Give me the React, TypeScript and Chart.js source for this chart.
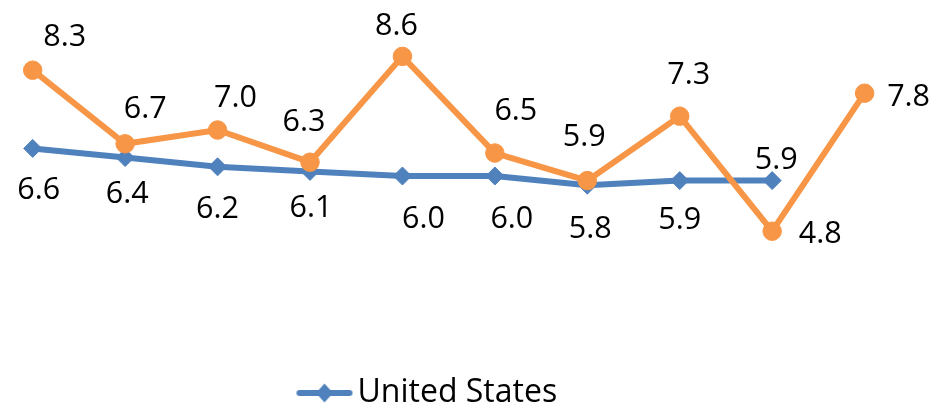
import React, { useEffect, useRef } from 'react';
import { Chart, registerables } from 'chart.js';

Chart.register(...registerables);

// ---- data ----
const categories = ['1', '2', '3', '4', '5', '6', '7', '8', '9', '10'];
const usValues: (number | null)[] = [6.6, 6.4, 6.2, 6.1, 6.0, 6.0, 5.8, 5.9, 5.9, null];
const secondValues: (number | null)[] = [8.3, 6.7, 7.0, 6.3, 8.6, 6.5, 5.9, 7.3, 4.8, 7.8];
const seriesNames = ['United States', ''];
const yMin = 3;
const yMax = 9.5;

// ---- label placement (dx, dy of label centre from its point) ----
const usLabelOffsets = [
  [6, 40], [2, 35], [0, 40], [1, 35], [21, 41], [17, 41], [3, 42], [0, 38], [4, -22], [0, 0],
];
const secondLabelOffsets = [
  [32, -35], [20, -37], [18, -34], [-6, -42], [-6, -32], [21, -44], [-3, -45], [9, -43], [48, 1], [44, 2],
];

// ---- style ----
const BLUE = '#4F81BD';
const ORANGE = '#F79646';
const FONT = '"Open Sans", Lato, sans-serif';
const LABEL_SIZE = 30.5;
const LEGEND_SIZE = 32;

const valueLabelPlugin = {
  id: 'valueLabels',
  afterDatasetsDraw(chart: any) {
    const ctx = chart.ctx;
    ctx.save();
    ctx.font = `${LABEL_SIZE}px ${FONT}`;
    ctx.fillStyle = '#000000';
    ctx.textAlign = 'center';
    ctx.textBaseline = 'alphabetic';
    const offsetSets = [usLabelOffsets, secondLabelOffsets];
    chart.data.datasets.forEach((ds: any, di: number) => {
      const meta = chart.getDatasetMeta(di);
      const offs = offsetSets[di];
      meta.data.forEach((pt: any, i: number) => {
        const v = ds.data[i];
        if (v === null || v === undefined) return;
        const [dx, dy] = offs[i];
        ctx.fillText(Number(v).toFixed(1), pt.x + dx, pt.y + dy + 0.357 * LABEL_SIZE);
      });
    });
    ctx.restore();
  },
};

function makeLegendMarker(): HTMLCanvasElement {
  const c = document.createElement('canvas');
  c.width = 58;
  c.height = 22;
  const g = c.getContext('2d')!;
  g.strokeStyle = BLUE;
  g.lineWidth = 6;
  g.lineCap = 'round';
  g.beginPath();
  g.moveTo(4, 11);
  g.lineTo(54, 11);
  g.stroke();
  g.fillStyle = BLUE;
  g.beginPath();
  g.moveTo(29, 1.5);
  g.lineTo(37.5, 11);
  g.lineTo(29, 20.5);
  g.lineTo(20.5, 11);
  g.closePath();
  g.fill();
  return c;
}

export default function App() {
  const canvasRef = useRef<HTMLCanvasElement | null>(null);

  useEffect(() => {
    let chart: Chart | null = null;
    let cancelled = false;
    const build = () => {
      if (cancelled || !canvasRef.current) return;
      const marker = makeLegendMarker();
      chart = new Chart(canvasRef.current, {
        type: 'line',
        data: {
          labels: categories,
          datasets: [
            {
              label: seriesNames[0],
              data: usValues,
              borderColor: BLUE,
              backgroundColor: BLUE,
              borderWidth: 6,
              pointStyle: 'rectRot',
              pointRadius: 9,
              pointBorderWidth: 1,
              pointBackgroundColor: BLUE,
              pointBorderColor: BLUE,
              tension: 0,
              clip: false,
              order: 1,
              spanGaps: false,
            },
            {
              label: seriesNames[1],
              data: secondValues,
              borderColor: ORANGE,
              backgroundColor: ORANGE,
              borderWidth: 6,
              pointStyle: 'circle',
              pointRadius: 9.25,
              pointBorderWidth: 1,
              pointBackgroundColor: ORANGE,
              pointBorderColor: ORANGE,
              tension: 0,
              clip: false,
              order: 0,
            },
          ],
        },
        options: {
          responsive: false,
          animation: false,
          devicePixelRatio: 1,
          layout: { padding: { top: 15, right: 71.4, bottom: -10, left: 0 } },
          scales: {
            x: { type: 'category', display: false, offset: false },
            y: {
              display: true,
              min: yMin,
              max: yMax,
              grid: { display: false },
              border: { display: false },
              ticks: { display: false },
              afterFit: (s: any) => {
                s.width = 32.7;
              },
            },
          },
          plugins: {
            tooltip: { enabled: false },
            legend: {
              display: true,
              position: 'bottom',
              align: 'center',
              labels: {
                usePointStyle: true,
                pointStyleWidth: 34,
                padding: 63,
                color: '#000000',
                font: { family: FONT, size: LEGEND_SIZE },
                generateLabels: () => [
                  {
                    text: seriesNames[0],
                    pointStyle: marker as any,
                    fillStyle: BLUE,
                    strokeStyle: BLUE,
                    lineWidth: 0,
                    hidden: false,
                    datasetIndex: 0,
                    fontColor: '#000000',
                  } as any,
                ],
              },
            },
          },
        } as any,
        plugins: [valueLabelPlugin],
      });
    };
    const fontsReady = (document as any).fonts
      ? Promise.all([
          (document as any).fonts.load(`${LABEL_SIZE}px "Open Sans"`),
          (document as any).fonts.load(`${LEGEND_SIZE}px "Open Sans"`),
        ]).catch(() => null)
      : Promise.resolve(null);
    fontsReady.then(build);
    return () => {
      cancelled = true;
      if (chart) chart.destroy();
    };
  }, []);

  return (
    <div style={{ position: 'fixed', left: 0, top: 0, width: 936, height: 409, background: '#ffffff' }}>
      <canvas ref={canvasRef} width={936} height={409} style={{ width: 936, height: 409, display: 'block' }} />
    </div>
  );
}
